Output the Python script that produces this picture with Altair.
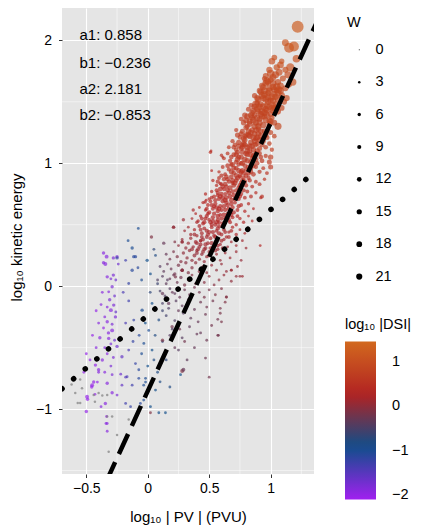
import altair as alt
import pandas as pd

# ---- constants ----
a1, b1 = 0.858, -0.236
a2, b2 = 2.181, -0.853
x_lim = [-0.698, 1.353]
y_lim = [-1.528, 2.263]
x_ticks = [-0.5, 0, 0.5, 1]
y_ticks = [-1, 0, 1, 2]
x_minor = [-0.25, 0.25, 0.75, 1.25]
y_minor = [-1.5, -0.5, 0.5, 1.5]
w_breaks = [0, 3, 6, 9, 12, 15, 18, 21]
dsi_ticks = [-2, -1, 0, 1]
dsi_domain = [-2.1, -0.913, 0.273, 1.46]
dsi_colors = ["#A020F0", "#104E8B", "#B22222", "#D2691E"]
coef_labels = ["a1: 0.858", "b1: \u22120.236", "a2: 2.181", "b2: \u22120.853"]
coef_y = [2.045, 1.819, 1.607, 1.39]
coef_x = [-0.556, -0.556, -0.556, -0.556]

# ---- points: (log10|PV|, log10 KE, W, log10|DSI|) ----
left_purple = [
(-0.36,0.27,6,-1.9),(-0.335,0.24,8,-1.9),(-0.28,0.23,6,-1.8),(-0.25,0.24,6,-1.8),(-0.36,0.19,6,-1.9),
(-0.345,0.18,8,-1.9),(-0.24,0.18,4,-1.7),(-0.28,0.09,6,-1.8),(-0.33,0.076,6,-1.9),(-0.30,0.06,4,-1.8),
(-0.26,0.05,4,-1.7),(-0.29,-0.005,6,-1.8),(-0.318,-0.046,4,-1.9),(-0.27,-0.08,4,-1.7),(-0.31,-0.11,6,-1.8),
(-0.277,-0.154,6,-1.8),(-0.30,-0.195,8,-1.9),(-0.33,-0.17,4,-1.9),(-0.26,-0.21,4,-1.6),(-0.263,-0.25,6,-1.8),
(-0.33,-0.29,6,-1.9),(-0.35,-0.25,4,-1.9),(-0.29,-0.31,4,-1.8),(-0.29,-0.36,8,-1.9),(-0.32,-0.38,6,-1.9),
(-0.36,-0.34,4,-2.0),(-0.318,-0.425,6,-1.9),(-0.27,-0.44,4,-1.7),(-0.25,-0.49,6,-1.7),(-0.30,-0.47,4,-1.8),
(-0.35,-0.50,4,-1.9),(-0.21,-0.574,6,-1.6),(-0.37,-0.60,6,-1.9),(-0.33,-0.55,4,-1.9),(-0.28,-0.58,4,-1.8),
(-0.426,-0.642,6,-2.0),(-0.40,-0.68,6,-1.9),(-0.30,-0.65,4,-1.8),(-0.35,-0.70,4,-1.9),(-0.44,-0.78,6,-2.0),
(-0.33,-0.79,6,-1.9),(-0.41,-0.78,4,-2.0),(-0.453,-0.805,8,-2.0),(-0.456,-0.82,6,-2.0),(-0.494,-0.90,8,-2.0),
(-0.49,-0.92,6,-2.0),(-0.29,-0.867,6,-1.9),(-0.25,-0.886,4,-1.8),(-0.345,-0.954,6,-1.9),(-0.50,-1.02,6,-2.0),
(-0.34,-1.117,4,-1.9),(-0.33,-1.117,4,-1.9),(-0.33,-1.18,4,-1.9),(-0.335,-1.06,4,-2.0),(-0.40,-0.70,4,-1.9),
(-0.29,-0.72,4,-1.8),(-0.22,-0.716,4,-1.7),(-0.47,-0.60,4,-2.0),(-0.42,-0.50,4,-1.9),(-0.39,-0.42,6,-1.9),
(-0.40,-0.30,4,-1.9),(-0.38,-0.15,4,-1.9),(-0.37,-0.05,4,-1.9),(-0.42,-0.20,4,-2.0),(-0.45,-0.40,4,-2.0),
(-0.52,-0.70,4,-2.0),(-0.50,-0.55,4,-2.0),(-0.43,-0.88,4,-2.0),(-0.38,-0.98,4,-1.9),
]
left_blue = [
(-0.25,0.23,6,-1.2),(-0.16,0.37,4,-1.0),(-0.127,0.31,6,-1.0),(-0.10,0.24,6,-1.1),(-0.077,0.47,4,-1.0),
(-0.114,0.24,6,-1.1),(-0.18,0.21,4,-1.3),(-0.005,0.21,6,-0.9),(0.063,0.25,4,-0.8),(-0.127,0.13,6,-1.1),
(-0.155,0.022,4,-1.2),(0.022,0.10,4,-0.9),(-0.05,0.05,4,-1.0),(-0.08,0.15,4,-1.1),(0.08,0.02,4,-0.6),
(0.035,-0.14,4,-0.9),(-0.046,-0.195,6,-1.0),(-0.114,-0.276,4,-1.2),(-0.155,-0.12,4,-1.3),(-0.20,-0.05,4,-1.4),
(-0.18,-0.30,4,-1.4),(0.09,-0.275,4,-0.8),(0.008,-0.36,4,-1.0),(-0.07,-0.40,4,-1.1),(-0.032,-0.466,4,-1.0),
(0.035,-0.52,4,-0.9),(-0.155,-0.52,4,-1.4),(-0.10,-0.63,4,-1.2),(-0.073,-0.68,4,-1.1),(-0.018,-0.78,4,-1.0),
(-0.18,-0.74,4,-1.5),(-0.168,-0.737,4,-1.4),(-0.073,-0.75,4,-1.1),(-0.018,-0.75,4,-1.0),(-0.21,-0.805,4,-1.6),
(-0.127,-0.805,4,-1.3),(-0.033,-0.805,4,-1.0),(0.022,-0.805,4,-0.9),(-0.18,-0.954,4,-1.3),(-0.14,-0.98,4,-1.2),
(-0.06,-0.954,4,-1.1),(-0.033,-0.927,4,-1.0),(0.022,-0.98,4,-0.9),(0.063,-0.845,4,-0.9),(0.10,-0.778,4,-0.8),
(0.267,-0.72,4,-0.9),(0.09,-1.03,4,-0.9),(0.144,-1.03,4,-0.9),(0.05,-0.60,4,-0.8),(0.12,-0.45,4,-0.7),
(0.06,-0.40,4,-0.8),(-0.02,-0.30,4,-0.9),(0.02,-0.05,4,-0.7),(0.05,0.30,4,-0.7),(0.15,-0.60,4,-0.7),
(0.12,-0.20,4,-0.6),(-0.12,-0.45,4,-1.2),(-0.05,-0.55,4,-1.0),(0.00,-0.65,4,-0.9),(0.08,-0.70,4,-0.8),
(0.18,-0.82,4,-0.8),
]
mid_mauve = [
(0.12,-0.06,6,-0.3),(0.17,-0.14,6,-0.3),(0.12,-0.44,6,-0.1),(0.198,-0.33,6,-0.2),(0.28,0.13,6,0.0),
(0.21,0.48,6,0.1),(0.28,0.36,6,0.1),(0.43,0.37,6,0.2),(0.03,0.40,6,-0.1),(0.16,0.05,4,-0.4),
(0.20,-0.05,4,-0.3),(0.25,-0.20,4,-0.3),(0.18,-0.40,4,-0.4),(0.22,-0.50,4,-0.3),(0.28,-0.69,8,-0.1),
(0.022,-1.03,4,-0.1),(0.26,-0.35,4,-0.2),(0.30,-0.45,4,-0.2),
]
band_m3 = [
(0.15,-0.24,4,-0.55),(0.22,-0.28,4,-0.45),(0.29,-0.22,4,-0.4),(0.35,-0.26,4,-0.35),(0.41,-0.29,4,-0.3),
(0.47,-0.23,4,-0.25),(0.52,-0.32,4,-0.2),(0.57,-0.27,4,-0.2),(0.60,-0.29,4,-0.15),(0.20,-0.35,4,-0.45),
(0.28,-0.42,4,-0.4),(0.34,-0.33,4,-0.35),(0.40,-0.39,4,-0.3),(0.43,-0.38,4,-0.3),(0.48,-0.44,4,-0.25),
(0.57,-0.40,4,-0.2),(0.575,-0.40,4,-0.2),(0.25,-0.52,4,-0.4),(0.32,-0.60,4,-0.35),(0.47,-0.585,4,-0.25),
(0.50,-0.74,4,-0.2),(0.29,-0.68,8,-0.3),(0.38,-0.50,4,-0.3),
]
band_m2 = [
(0.12,-0.14,4,-0.5),(0.17,-0.18,4,-0.45),(0.23,-0.12,4,-0.4),(0.28,-0.16,4,-0.35),(0.33,-0.11,4,-0.3),
(0.38,-0.19,4,-0.3),(0.43,-0.13,4,-0.25),(0.48,-0.17,4,-0.2),(0.53,-0.12,4,-0.2),(0.59,-0.18,4,-0.15),
(0.63,-0.13,4,-0.1),(0.59,-0.22,4,-0.15),
]
band_m1 = [
(0.10,-0.04,4,-0.5),(0.14,-0.08,4,-0.45),(0.18,-0.02,4,-0.4),(0.22,-0.06,4,-0.35),(0.26,-0.09,4,-0.3),
(0.30,-0.03,4,-0.25),(0.34,-0.07,4,-0.25),(0.38,-0.01,4,-0.2),(0.42,-0.05,4,-0.2),(0.46,-0.09,4,-0.15),
(0.50,-0.03,4,-0.15),(0.55,-0.07,4,-0.1),(0.60,-0.02,4,-0.1),(0.64,-0.09,4,-0.05),(0.64,-0.087,4,-0.1),
]
band_00 = [
(0.08,0.05,4,-0.45),(0.12,0.08,4,-0.4),(0.15,0.02,4,-0.35),(0.18,0.06,4,-0.3),(0.21,0.09,4,-0.25),
(0.24,0.03,4,-0.25),(0.27,0.07,6,-0.2),(0.30,0.01,6,-0.15),(0.33,0.05,4,-0.15),(0.36,0.09,4,-0.1),
(0.39,0.02,4,-0.1),(0.42,0.06,4,-0.05),(0.46,0.03,4,-0.05),(0.50,0.08,4,0.0),(0.54,0.01,4,-0.05),
(0.58,0.05,4,0.0),(0.62,0.09,4,0.05),(0.68,0.04,4,0.0),(0.72,0.08,4,0.05),(0.77,0.08,4,0.1),
(0.75,0.08,4,0.05),(0.68,0.13,4,0.05),
]
band_01 = [
(0.10,0.16,4,-0.4),(0.13,0.12,4,-0.35),(0.16,0.18,4,-0.3),(0.19,0.14,4,-0.25),(0.22,0.10,6,-0.2),
(0.25,0.17,6,-0.15),(0.28,0.13,6,-0.1),(0.31,0.19,6,-0.05),(0.33,0.11,6,-0.1),(0.36,0.15,6,-0.05),
(0.39,0.19,6,0.0),(0.42,0.12,6,-0.05),(0.45,0.16,4,0.0),(0.48,0.11,4,0.0),(0.52,0.17,4,0.05),
(0.56,0.13,4,0.0),(0.60,0.18,4,0.05),(0.64,0.12,4,0.05),(0.68,0.13,4,0.1),(0.73,0.16,4,0.05),
(0.28,0.13,6,-0.05),(0.225,0.076,6,-0.15),
]
band_02 = [
(0.15,0.26,4,-0.3),(0.18,0.22,4,-0.2),(0.21,0.28,4,-0.15),(0.24,0.24,6,-0.1),(0.27,0.20,6,-0.05),
(0.29,0.27,6,0.0),(0.32,0.23,6,0.0),(0.34,0.29,6,0.05),(0.36,0.21,6,0.0),(0.38,0.25,8,0.05),
(0.40,0.29,6,0.1),(0.42,0.22,6,0.05),(0.44,0.26,6,0.05),(0.46,0.20,6,0.05),(0.48,0.24,6,0.1),
(0.50,0.28,6,0.1),(0.53,0.22,4,0.05),(0.56,0.26,4,0.1),(0.59,0.21,4,0.05),(0.63,0.27,4,0.1),
(0.67,0.23,4,0.1),(0.72,0.28,4,0.1),(0.76,0.21,4,0.05),
]
band_03 = [
(0.22,0.36,4,-0.1),(0.25,0.33,4,0.0),(0.28,0.38,4,0.05),(0.31,0.31,6,0.05),(0.33,0.35,6,0.1),
(0.35,0.39,6,0.1),(0.37,0.32,6,0.1),(0.39,0.36,8,0.15),(0.41,0.30,8,0.1),(0.43,0.34,8,0.15),
(0.45,0.38,8,0.15),(0.47,0.31,8,0.1),(0.49,0.35,8,0.15),(0.51,0.39,8,0.2),(0.53,0.32,6,0.15),
(0.55,0.36,6,0.15),(0.57,0.30,6,0.1),(0.59,0.34,6,0.15),(0.62,0.38,6,0.15),(0.65,0.32,4,0.1),
(0.68,0.36,4,0.15),(0.72,0.33,4,0.15),(0.77,0.37,4,0.15),(0.80,0.31,4,0.1),(0.28,0.36,6,0.0),
(0.43,0.37,6,0.15),(0.13,0.35,6,-0.3),(0.915,0.33,4,0.3),
]
band_04 = [
(0.30,0.45,4,0.1),(0.33,0.48,4,0.15),(0.35,0.42,6,0.15),(0.38,0.46,6,0.2),(0.40,0.41,6,0.15),
(0.42,0.49,8,0.2),(0.44,0.43,8,0.2),(0.46,0.47,8,0.2),(0.48,0.40,8,0.15),(0.50,0.44,10,0.2),
(0.52,0.48,8,0.25),(0.54,0.41,8,0.2),(0.56,0.45,8,0.2),(0.58,0.49,8,0.25),(0.60,0.42,8,0.2),
(0.62,0.46,8,0.2),(0.64,0.40,6,0.2),(0.66,0.44,6,0.2),(0.69,0.48,6,0.25),(0.72,0.42,6,0.2),
(0.75,0.46,4,0.2),(0.79,0.43,4,0.2),(0.82,0.47,4,0.25),(0.21,0.48,6,0.0),
]
band_05 = [
(0.36,0.55,4,0.2),(0.39,0.59,4,0.25),(0.41,0.53,6,0.25),(0.43,0.57,6,0.25),(0.45,0.51,8,0.25),
(0.47,0.55,8,0.3),(0.49,0.59,8,0.3),(0.51,0.52,10,0.25),(0.53,0.56,10,0.3),(0.55,0.50,10,0.25),
(0.57,0.54,10,0.3),(0.59,0.58,8,0.3),(0.61,0.51,10,0.25),(0.63,0.55,8,0.3),(0.65,0.59,8,0.3),
(0.67,0.52,8,0.25),(0.69,0.56,8,0.3),(0.72,0.50,6,0.25),(0.75,0.55,6,0.3),(0.78,0.52,6,0.25),
(0.82,0.57,4,0.3),(0.85,0.53,4,0.25),(0.50,0.54,8,0.25),(0.58,0.52,8,0.25),(0.29,0.54,6,0.1),
(0.40,0.52,6,0.2),
]
band_06 = [
(0.42,0.64,4,0.3),(0.45,0.68,6,0.3),(0.47,0.62,6,0.3),(0.49,0.66,8,0.35),(0.51,0.69,8,0.35),
(0.53,0.63,8,0.3),(0.55,0.67,10,0.35),(0.57,0.61,10,0.3),(0.59,0.65,10,0.35),(0.61,0.69,10,0.35),
(0.63,0.62,10,0.35),(0.65,0.66,10,0.35),(0.67,0.60,10,0.3),(0.69,0.64,10,0.35),(0.71,0.68,8,0.35),
(0.73,0.62,8,0.3),(0.76,0.66,8,0.35),(0.79,0.61,6,0.3),(0.82,0.67,6,0.35),(0.86,0.63,4,0.3),
(0.60,0.62,8,0.3),(0.54,0.65,8,0.3),(0.37,0.62,6,0.2),(0.467,0.685,6,0.3),
]
band_07 = [
(0.47,0.75,6,0.35),(0.50,0.71,6,0.35),(0.52,0.77,6,0.35),(0.54,0.73,8,0.4),(0.56,0.78,8,0.4),
(0.58,0.71,10,0.35),(0.60,0.75,10,0.4),(0.62,0.79,10,0.4),(0.64,0.72,12,0.4),(0.66,0.76,12,0.45),
(0.68,0.70,12,0.4),(0.70,0.74,10,0.4),(0.72,0.78,10,0.45),(0.74,0.71,10,0.4),(0.76,0.75,10,0.4),
(0.79,0.72,8,0.4),(0.81,0.77,8,0.45),(0.84,0.73,8,0.4),(0.88,0.76,6,0.4),(0.92,0.72,6,0.4),
(0.63,0.75,8,0.4),(0.57,0.74,8,0.35),(0.93,0.73,8,0.45),(0.475,0.70,4,0.3),
]
band_08 = [
(0.53,0.86,6,0.4),(0.56,0.82,6,0.4),(0.58,0.88,8,0.45),(0.60,0.83,8,0.4),(0.62,0.87,10,0.45),
(0.64,0.81,10,0.4),(0.66,0.85,10,0.45),(0.68,0.89,12,0.5),(0.70,0.82,12,0.45),(0.72,0.86,12,0.45),
(0.74,0.80,12,0.4),(0.76,0.84,12,0.45),(0.78,0.88,10,0.5),(0.80,0.82,10,0.45),(0.83,0.86,10,0.45),
(0.85,0.81,8,0.4),(0.88,0.85,8,0.45),(0.91,0.83,8,0.45),(0.95,0.87,6,0.5),(0.69,0.84,10,0.45),
(0.75,0.89,8,0.45),(0.59,0.835,6,0.35),
]
band_09 = [
(0.58,0.93,6,0.45),(0.61,0.97,8,0.5),(0.63,0.91,8,0.45),(0.66,0.95,10,0.5),(0.68,0.99,10,0.55),
(0.70,0.92,12,0.5),(0.72,0.96,12,0.55),(0.75,0.90,12,0.5),(0.77,0.94,14,0.55),(0.79,0.98,12,0.55),
(0.82,0.92,14,0.5),(0.84,0.96,12,0.55),(0.86,0.91,12,0.5),(0.88,0.97,10,0.55),(0.91,0.93,10,0.5),
(0.94,0.96,8,0.55),(0.97,0.92,8,0.5),(1.00,0.97,14,0.6),(0.74,0.99,10,0.5),(0.80,0.95,10,0.5),
(0.52,0.94,4,0.35),
]
band_10 = [
(0.62,1.04,8,0.55),(0.65,1.08,8,0.55),(0.67,1.02,10,0.5),(0.70,1.07,12,0.6),(0.72,1.01,12,0.55),
(0.74,1.05,14,0.6),(0.77,1.09,14,0.6),(0.79,1.03,16,0.6),(0.81,1.07,14,0.65),(0.84,1.01,16,0.6),
(0.86,1.06,14,0.65),(0.88,1.03,14,0.6),(0.91,1.08,12,0.65),(0.93,1.02,12,0.6),(0.96,1.06,10,0.65),
(0.99,1.01,14,0.65),(1.00,1.05,16,0.7),(0.76,1.00,12,0.55),(0.51,1.09,6,0.45),(0.60,1.065,6,0.5),
(0.61,1.05,4,0.45),(0.515,1.10,4,0.4),
]
band_11 = [
(0.71,1.15,12,0.65),(0.78,1.16,18,0.7),(0.875,1.15,16,0.7),(0.66,1.13,8,0.6),(0.69,1.18,10,0.6),
(0.72,1.11,12,0.65),(0.74,1.17,14,0.65),(0.76,1.12,14,0.6),(0.79,1.19,16,0.7),(0.81,1.13,16,0.65),
(0.84,1.17,18,0.7),(0.86,1.11,16,0.65),(0.89,1.16,16,0.7),(0.91,1.12,14,0.7),(0.94,1.18,14,0.75),
(0.96,1.13,12,0.7),(0.99,1.16,12,0.75),(1.01,1.11,10,0.7),(0.83,1.10,14,0.6),(0.77,1.15,12,0.65),
]
band_12 = [
(0.73,1.23,14,0.7),(0.82,1.23,20,0.75),(0.89,1.21,18,0.75),(0.72,1.27,10,0.65),(0.75,1.21,12,0.7),
(0.77,1.26,14,0.7),(0.80,1.29,16,0.75),(0.83,1.22,18,0.7),(0.85,1.27,16,0.75),(0.87,1.24,18,0.75),
(0.90,1.28,16,0.8),(0.92,1.22,18,0.75),(0.95,1.26,16,0.8),(0.97,1.21,14,0.75),(1.00,1.25,14,0.8),
(1.03,1.22,12,0.8),(0.79,1.22,14,0.7),(0.88,1.20,16,0.7),
]
band_13 = [
(0.93,1.38,22,0.85),(0.97,1.43,20,0.85),(1.02,1.43,24,0.9),(0.81,1.38,20,0.8),(0.78,1.33,16,0.75),
(0.86,1.35,24,0.8),(0.90,1.30,22,0.8),(1.06,1.30,28,0.9),(0.76,1.36,12,0.7),(0.79,1.39,16,0.75),
(0.83,1.32,18,0.75),(0.85,1.37,20,0.8),(0.88,1.33,20,0.8),(0.91,1.36,18,0.8),(0.94,1.31,22,0.8),
(0.96,1.35,20,0.85),(0.99,1.32,18,0.8),(1.01,1.37,16,0.85),(1.03,1.33,18,0.8),(0.81,1.30,14,0.7),
(0.87,1.39,16,0.75),
]
band_14 = [
(0.88,1.48,30,0.85),(0.94,1.46,26,0.9),(0.98,1.50,24,0.9),(1.04,1.48,20,0.9),(1.09,1.45,18,0.9),
(0.82,1.44,14,0.75),(0.85,1.41,18,0.8),(0.87,1.46,20,0.8),(0.90,1.42,22,0.85),(0.92,1.48,20,0.85),
(0.95,1.41,24,0.8),(0.99,1.46,22,0.85),(1.00,1.40,20,0.85),(1.03,1.45,18,0.9),(1.06,1.42,20,0.85),
(0.89,1.49,16,0.8),(0.84,1.47,12,0.75),
]
band_15 = [
(0.92,1.58,22,0.9),(0.95,1.59,25,0.9),(1.01,1.54,28,0.95),(1.13,1.53,22,1.0),(1.08,1.59,26,0.95),
(0.87,1.55,16,0.8),(0.90,1.52,22,0.85),(0.93,1.55,24,0.9),(0.96,1.52,26,0.85),(0.98,1.57,20,0.9),
(1.00,1.51,22,0.85),(1.03,1.56,24,0.9),(1.06,1.52,22,0.9),(1.09,1.55,24,0.95),(1.11,1.50,18,0.9),
(0.91,1.59,18,0.85),(1.05,1.59,16,0.9),
]
band_16 = [
(1.18,1.66,30,1.05),(0.97,1.67,30,0.95),(1.02,1.65,26,0.9),(1.05,1.62,30,0.95),(1.10,1.69,20,1.0),
(0.93,1.63,20,0.9),(0.96,1.65,24,0.9),(0.99,1.61,22,0.95),(1.00,1.68,20,0.9),(1.03,1.60,24,0.9),
(1.06,1.66,22,0.95),(1.08,1.63,26,1.0),(1.12,1.61,20,0.95),(1.15,1.64,18,1.0),(0.95,1.69,14,0.85),
]
core = [
(0.40,0.27,8,0.05),(0.45,0.28,8,0.1),(0.50,0.25,8,0.1),(0.55,0.29,8,0.1),
(0.42,0.32,8,0.1),(0.47,0.34,10,0.15),(0.52,0.35,10,0.15),(0.57,0.33,8,0.15),(0.61,0.31,8,0.1),
(0.44,0.40,8,0.15),(0.49,0.42,10,0.2),(0.53,0.44,10,0.2),(0.58,0.43,10,0.2),(0.63,0.44,8,0.2),
(0.46,0.52,10,0.25),(0.52,0.50,10,0.25),(0.56,0.52,12,0.3),(0.60,0.55,10,0.3),(0.66,0.54,10,0.3),
(0.50,0.60,10,0.3),(0.54,0.59,10,0.3),(0.58,0.63,12,0.35),(0.62,0.65,12,0.35),(0.66,0.63,12,0.35),
(0.70,0.60,10,0.3),(0.55,0.70,10,0.35),(0.59,0.73,12,0.4),(0.63,0.70,12,0.4),(0.67,0.73,12,0.4),
(0.71,0.71,12,0.4),(0.75,0.73,10,0.4),(0.59,0.79,12,0.4),(0.63,0.83,12,0.45),(0.67,0.80,14,0.45),
(0.71,0.84,14,0.45),(0.75,0.82,12,0.45),(0.79,0.85,12,0.45),(0.64,0.89,12,0.5),(0.68,0.93,14,0.5),
(0.72,0.90,14,0.5),(0.76,0.93,14,0.55),(0.80,0.90,12,0.5),(0.84,0.93,12,0.55),(0.69,0.99,14,0.55),
(0.73,1.03,16,0.6),(0.77,1.00,16,0.6),(0.81,1.02,16,0.6),(0.85,1.04,14,0.6),(0.89,1.00,12,0.6),
(0.73,1.09,14,0.6),(0.77,1.13,16,0.65),(0.81,1.10,18,0.65),(0.85,1.14,18,0.7),(0.89,1.10,16,0.7),
(0.93,1.15,14,0.7),(0.78,1.20,16,0.7),(0.82,1.26,18,0.75),(0.86,1.21,20,0.75),(0.90,1.24,18,0.75),
(0.94,1.20,16,0.75),(0.83,1.34,20,0.8),(0.87,1.30,20,0.8),(0.91,1.33,22,0.8),(0.95,1.38,20,0.85),
(0.99,1.35,18,0.85),(0.89,1.44,22,0.85),(0.93,1.42,24,0.85),(0.97,1.47,22,0.9),(1.01,1.45,20,0.9),
(0.94,1.53,24,0.9),(0.98,1.54,24,0.9),(1.02,1.51,22,0.9),(1.06,1.57,24,0.95),
]
core2 = [
(0.36,0.30,8,0.1),(0.40,0.35,8,0.12),(0.46,0.30,8,0.12),(0.51,0.31,8,0.15),(0.55,0.40,10,0.2),
(0.60,0.37,8,0.18),(0.66,0.40,8,0.2),(0.38,0.42,8,0.15),(0.43,0.46,8,0.18),(0.48,0.45,10,0.2),
(0.57,0.47,10,0.22),(0.61,0.49,10,0.25),(0.68,0.45,8,0.22),
(0.44,0.55,8,0.22),(0.48,0.57,10,0.25),(0.53,0.53,10,0.28),(0.57,0.57,12,0.3),(0.62,0.58,12,0.3),
(0.68,0.58,10,0.3),(0.73,0.57,8,0.3),(0.48,0.63,8,0.3),(0.52,0.66,10,0.32),(0.56,0.64,12,0.33),
(0.64,0.68,12,0.35),(0.68,0.67,12,0.36),(0.74,0.65,10,0.35),
(0.52,0.72,8,0.35),(0.57,0.76,10,0.38),(0.61,0.72,12,0.38),(0.65,0.78,12,0.42),(0.69,0.77,12,0.42),
(0.73,0.75,12,0.42),(0.78,0.78,10,0.43),(0.57,0.85,10,0.42),(0.61,0.81,12,0.42),(0.65,0.87,12,0.47),
(0.69,0.86,14,0.47),(0.73,0.88,14,0.48),(0.77,0.86,12,0.47),(0.82,0.88,10,0.47),
(0.60,0.90,10,0.46),(0.65,0.98,12,0.52),(0.70,0.96,14,0.52),(0.74,0.94,14,0.53),(0.78,0.92,14,0.52),
(0.82,0.97,14,0.55),(0.86,0.98,12,0.56),(0.68,1.05,12,0.57),(0.72,1.07,14,0.6),(0.76,1.05,16,0.6),
(0.80,1.08,16,0.62),(0.84,1.07,16,0.63),(0.88,1.08,14,0.63),(0.92,1.05,12,0.63),
(0.70,1.13,12,0.62),(0.74,1.14,14,0.64),(0.79,1.15,16,0.66),(0.83,1.14,18,0.68),(0.87,1.18,18,0.7),
(0.91,1.19,16,0.72),(0.76,1.24,14,0.7),(0.80,1.23,16,0.72),(0.84,1.25,18,0.74),(0.88,1.27,18,0.76),
(0.92,1.26,18,0.78),(0.96,1.23,16,0.78),
(0.80,1.35,18,0.77),(0.84,1.39,20,0.8),(0.89,1.37,20,0.8),(0.92,1.40,22,0.82),(0.97,1.39,20,0.84),
(1.00,1.34,18,0.85),(0.86,1.43,20,0.82),(0.91,1.46,22,0.86),(0.96,1.44,22,0.87),(1.02,1.47,20,0.9),
(0.89,1.53,20,0.86),(0.95,1.56,24,0.9),(0.99,1.59,24,0.92),(1.04,1.54,22,0.92),(0.94,1.62,22,0.9),
(0.98,1.66,24,0.93),(1.02,1.62,24,0.93),(1.07,1.60,22,0.96),
]
band_top = [
(1.01,1.83,24,1.0),(1.05,1.78,22,1.05),(1.08,1.80,25,1.05),(1.00,1.73,30,1.0),(1.04,1.72,28,0.95),
(1.03,1.86,18,1.05),(1.09,1.83,16,1.1),(0.99,1.76,22,1.0),(1.07,1.74,25,1.0),(1.12,1.76,20,1.05),
(1.02,1.70,24,0.95),(0.96,1.71,18,0.95),(1.14,1.72,26,1.0),(1.12,1.98,26,1.15),(1.21,1.85,32,1.1),
(1.16,1.78,38,1.1),(1.15,1.94,55,1.15),(1.19,1.95,55,1.2),(1.22,2.11,80,1.25),
]
# points without a DSI value (drawn grey)
grey_pts = [
(-0.55,-0.76,3),(-0.535,-0.83,3),(-0.55,-0.95,3),(-0.44,-0.886,3),(-0.40,-0.87,3),(-0.37,-0.89,3),
(-0.33,-0.886,3),(-0.43,-0.94,3),(-0.33,-1.06,3),(-0.29,-1.06,3),(-0.155,-1.084,3),(-0.25,-1.21,3),
(-0.318,-1.347,3),(-0.57,-0.95,3),(-0.59,-0.87,3),(-0.62,-0.80,3),
]

groups = [left_purple, left_blue, mid_mauve, band_m3, band_m2, band_m1, band_00, band_01,
          band_02, band_03, band_04, band_05, band_06, band_07, band_08, band_09, band_10,
          band_11, band_12, band_13, band_14, band_15, band_16, core, core2, band_top]
rows = [p for g in groups for p in g]
df = pd.DataFrame(rows, columns=["pv", "ke", "W", "DSI"])
df_grey = pd.DataFrame(grey_pts, columns=["pv", "ke", "W"])

FONT = "Liberation Sans"
xs = alt.Scale(domain=x_lim, nice=False, zero=False)
ys = alt.Scale(domain=y_lim, nice=False, zero=False)
size_scale = alt.Scale(domain=[0, 21], range=[1, 38])

x_axis = alt.Axis(title="log\u2081\u2080 | PV | (PVU)", values=x_ticks, format="~g",
                  grid=True, gridColor="white", gridWidth=1.1, domain=False,
                  tickColor="#333333", tickSize=3.5, labelColor="black",
                  labelFont=FONT, labelFontSize=14, labelPadding=4,
                  titleFont=FONT, titleFontSize=15, titleFontWeight="normal",
                  titleColor="black", titleY=42, titleBaseline="middle")
y_axis = alt.Axis(title="log\u2081\u2080 kinetic energy", values=y_ticks, format="d",
                  grid=True, gridColor="white", gridWidth=1.1, domain=False,
                  tickColor="#333333", tickSize=3.5, labelColor="black",
                  labelFont=FONT, labelFontSize=14, labelPadding=7,
                  titleFont=FONT, titleFontSize=15, titleFontWeight="normal",
                  titleColor="black", titleX=-46, titleY=229, titleBaseline="middle")

minor_x = alt.Chart(pd.DataFrame({"v": x_minor})).mark_rule(
    color="white", strokeWidth=0.5).encode(x=alt.X("v:Q", scale=xs, axis=x_axis))
minor_y = alt.Chart(pd.DataFrame({"v": y_minor})).mark_rule(
    color="white", strokeWidth=0.5).encode(y=alt.Y("v:Q", scale=ys, axis=y_axis))

size_legend = alt.Legend(title="W", orient="none", legendX=285, legendY=8,
                         values=w_breaks, symbolType="circle", labelOffset=9,
                         rowPadding=17.4, symbolOffset=5, titlePadding=12,
                         symbolFillColor="black", symbolOpacity=1, symbolStrokeWidth=0)
color_legend = alt.Legend(title="log\u2081\u2080 |DSI|", orient="none", legendX=283,
                          legendY=310, values=dsi_ticks, gradientLength=158,
                          gradientThickness=31, gradientStrokeWidth=0,
                          gradientOpacity=1, labelOffset=16, titlePadding=9)

# legend-only layer: holds the W legend (no rows survive the filter, nothing is drawn)
legend_layer = alt.Chart(pd.DataFrame({"W": w_breaks})).transform_filter(
    "datum.W < 0").mark_circle(color="black", opacity=1).encode(
    size=alt.Size("W:Q", scale=size_scale, legend=size_legend))

pts = alt.Chart(df).mark_circle(clip=True).encode(
    x=alt.X("pv:Q", scale=xs, axis=x_axis),
    y=alt.Y("ke:Q", scale=ys, axis=y_axis),
    size=alt.Size("W:Q", scale=size_scale, legend=None),
    color=alt.Color("DSI:Q", scale=alt.Scale(domain=dsi_domain, range=dsi_colors,
                                             interpolate="rgb"), legend=color_legend),
    opacity=alt.value(0.68),
)
grey = alt.Chart(df_grey).mark_circle(color="#7F7F7F", clip=True).encode(
    x=alt.X("pv:Q", scale=xs, axis=x_axis),
    y=alt.Y("ke:Q", scale=ys, axis=y_axis),
    size=alt.Size("W:Q", scale=size_scale, legend=None),
    opacity=alt.value(0.7),
)

lx1 = [x_lim[0], x_lim[1]]
line1_df = pd.DataFrame({"x": lx1, "y": [a1 * v + b1 for v in lx1]})
lx2 = [-0.34, 1.40]
line2_df = pd.DataFrame({"x": lx2, "y": [a2 * v + b2 for v in lx2]})

dotted = alt.Chart(line1_df).mark_line(color="black", strokeWidth=5.5, strokeDash=[0.1, 15.2],
                                        strokeCap="round", clip=True).encode(
    x=alt.X("x:Q", scale=xs, axis=x_axis), y=alt.Y("y:Q", scale=ys, axis=y_axis))
dashed = alt.Chart(line2_df).mark_line(color="black", strokeWidth=4.5, strokeDash=[22, 9],
                                        clip=True).encode(
    x=alt.X("x:Q", scale=xs, axis=x_axis), y=alt.Y("y:Q", scale=ys, axis=y_axis))

txt_df = pd.DataFrame({"x": coef_x, "y": coef_y, "t": coef_labels})
txt = alt.Chart(txt_df).mark_text(align="left", baseline="middle", font=FONT,
                                  fontSize=15, color="black").encode(
    x=alt.X("x:Q", scale=xs, axis=x_axis), y=alt.Y("y:Q", scale=ys, axis=y_axis),
    text="t:N")

chart = alt.layer(legend_layer, minor_x, minor_y, pts, grey, dotted, dashed, txt).properties(
    width=252, height=466,
    autosize=alt.AutoSizeParams(type="none"),
    padding={"left": 54, "top": 0, "right": 101, "bottom": 58},
    background="white",
).configure_view(fill="#E5E5E5", strokeWidth=0).configure_legend(
    titleFont=FONT, titleFontSize=14.5, titleFontWeight="normal", titleColor="black",
    labelFont=FONT, labelFontSize=14.5, labelColor="black",
)

chart.save("out.html", embed_options={"renderer": "svg", "actions": False})
